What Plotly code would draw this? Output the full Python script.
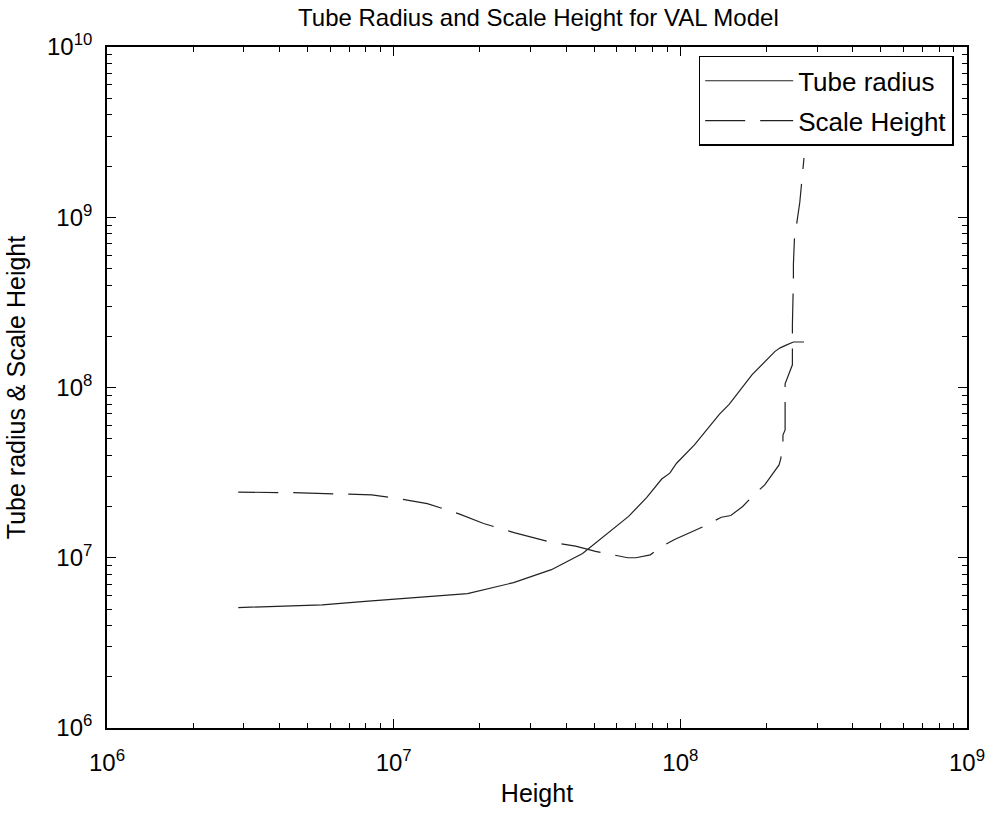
import plotly.graph_objects as go

# Tube radius (solid)
height_tube = [2.87e6, 5.63e6, 7.95e6, 1.21e7, 1.81e7, 2.62e7, 3.55e7, 4.56e7, 5.07e7,
               6.6e7, 7.64e7, 8.61e7, 9.19e7, 9.7e7, 1.12e8, 1.37e8, 1.48e8, 1.78e8,
               2.14e8, 2.23e8, 2.35e8, 2.48e8, 2.70e8]
tube_radius = [5.1e6, 5.29e6, 5.55e6, 5.84e6, 6.16e6, 7.14e6, 8.51e6, 1.06e7, 1.22e7,
               1.75e7, 2.26e7, 2.9e7, 3.14e7, 3.59e7, 4.6e7, 6.98e7, 7.96e7, 1.19e8,
               1.63e8, 1.71e8, 1.78e8, 1.85e8, 1.85e8]

# Scale height (dashed)
height_scale = [2.87e6, 3.96e6, 4.47e6, 6.43e6, 7.28e6, 8.38e6, 1.05e7, 1.18e7, 1.31e7,
                1.69e7, 1.90e7, 2.06e7, 2.65e7, 3.03e7, 3.5e7, 4.31e7, 4.79e7, 5.06e7,
                6.55e7, 7.0e7, 7.86e7, 8.57e7, 9.55e7, 1.07e8, 1.20e8, 1.39e8, 1.50e8,
                1.65e8, 1.80e8, 1.97e8, 2.21e8, 2.24e8, 2.28e8, 2.28e8, 2.32e8, 2.32e8,
                2.46e8, 2.46e8, 2.46e8, 2.48e8, 2.48e8, 2.50e8, 2.56e8, 2.61e8, 2.70e8]
scale_height = [2.43e7, 2.42e7, 2.41e7, 2.37e7, 2.35e7, 2.34e7, 2.22e7, 2.15e7, 2.08e7,
                1.81e7, 1.68e7, 1.59e7, 1.40e7, 1.32e7, 1.24e7, 1.17e7, 1.12e7, 1.09e7,
                1.0e7, 1.0e7, 1.04e7, 1.16e7, 1.28e7, 1.39e7, 1.52e7, 1.73e7, 1.77e7,
                2.0e7, 2.33e7, 2.68e7, 3.51e7, 3.81e7, 4.64e7, 5.26e7, 5.63e7, 1.05e8,
                1.36e8, 1.85e8, 2.34e8, 4.3e8, 5.3e8, 7.4e8, 9.8e8, 1.22e9, 2.23e9]

x_exponents = [6, 7, 8, 9]
y_exponents = [6, 7, 8, 9, 10]

x_ticks = [10 ** e for e in x_exponents]
y_ticks = [10 ** e for e in y_exponents]
x_ticktext = [f"10<sup>{e}</sup>" for e in x_exponents]
y_ticktext = [f"10<sup>{e}</sup>" for e in y_exponents]

FONT = "Liberation Sans, Arial, Helvetica, sans-serif"

fig = go.Figure()
fig.add_trace(go.Scatter(x=height_tube, y=tube_radius, mode="lines", name="Tube radius",
                         legendgroup="a",
                         line=dict(color="#222222", width=1.2)))
fig.add_trace(go.Scatter(x=height_scale, y=scale_height, mode="lines", name="Scale Height",
                         legendgroup="b",
                         line=dict(color="#222222", width=1.2, dash="40px,15px")))

axis_common = dict(
    type="log", showgrid=False, zeroline=False,
    showline=True, linecolor="black", linewidth=1.6, mirror="ticks",
    ticks="inside", ticklen=9, tickwidth=1, tickcolor="black",
    tickfont=dict(family=FONT, size=24, color="black"),
    minor=dict(dtick="D1", ticks="inside", ticklen=5, tickwidth=1,
               tickcolor="black", showgrid=False),
)

fig.update_xaxes(**axis_common, range=[5.99999, 9.00001], tickmode="array",
                 tickvals=x_ticks, ticktext=x_ticktext, ticklabelstandoff=12,
                 title=dict(text="Height", standoff=10,
                            font=dict(family=FONT, size=25, color="black")))
fig.update_yaxes(**axis_common, range=[5.99999, 10.00001], tickmode="array",
                 tickvals=y_ticks, ticktext=y_ticktext, ticklabelstandoff=8,
                 title=dict(text="Tube radius &amp; Scale Height", standoff=14,
                            font=dict(family=FONT, size=25, color="black")))

fig.update_layout(
    width=997, height=815,
    margin=dict(l=107, r=22, t=47, b=83),
    paper_bgcolor="white", plot_bgcolor="white",
    title=dict(text="Tube Radius and Scale Height for VAL Model", x=0.54, xanchor="center",
               y=0.978, yanchor="middle",
               font=dict(family=FONT, size=24, color="black")),
    legend=dict(x=0.688, y=0.987, xanchor="left", yanchor="top",
                bgcolor="white", bordercolor="black", borderwidth=1.5,
                font=dict(family=FONT, size=26, color="black"),
                itemwidth=88, tracegroupgap=3),
)

fig.write_html("out.html")
